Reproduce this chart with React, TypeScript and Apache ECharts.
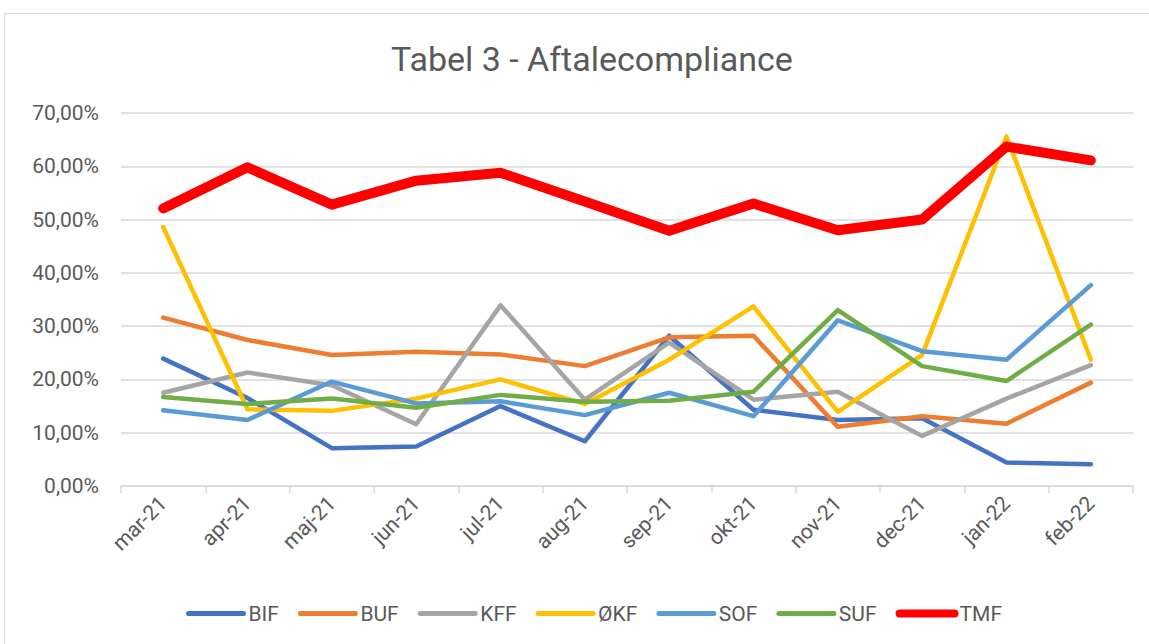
import React, { useEffect, useRef } from "react";
import * as echarts from "echarts";

const months = ["mar-21", "apr-21", "maj-21", "jun-21", "jul-21", "aug-21", "sep-21", "okt-21", "nov-21", "dec-21", "jan-22", "feb-22"];

const BIF = [23.9, 16.5, 7.1, 7.4, 15.0, 8.4, 28.2, 14.3, 12.4, 12.7, 4.4, 4.1];
const BUF = [31.6, 27.4, 24.6, 25.2, 24.7, 22.5, 27.9, 28.2, 11.1, 13.1, 11.7, 19.4];
const KFF = [17.5, 21.3, 18.9, 11.6, 33.9, 16.2, 26.9, 16.2, 17.7, 9.4, 16.4, 22.7];
const OKF = [48.6, 14.4, 14.1, 16.4, 20.0, 15.4, 23.7, 33.7, 13.9, 24.6, 65.6, 23.7];
const SOF = [14.2, 12.4, 19.6, 15.5, 15.9, 13.3, 17.5, 13.1, 31.1, 25.3, 23.7, 37.7];
const SUF = [16.7, 15.4, 16.4, 14.7, 17.1, 15.8, 16.0, 17.7, 33.0, 22.5, 19.7, 30.3];
const TMF = [52.1, 59.8, 52.8, 57.3, 58.8, 53.4, 47.9, 53.0, 48.0, 50.0, 63.7, 61.1];

const seriesNames = ["BIF", "BUF", "KFF", "ØKF", "SOF", "SUF", "TMF"];
const seriesData = [BIF, BUF, KFF, OKF, SOF, SUF, TMF];
const seriesColors = ["#4472C4", "#ED7D31", "#A5A5A5", "#FFC000", "#5B9BD5", "#70AD47", "#FF0000"];
const seriesWidths = [4.5, 4.5, 4.5, 4.5, 4.5, 4.5, 10];
const legendWidths = [5, 5, 5, 5, 5, 5, 8];

const FONT = "Roboto, 'Liberation Sans', sans-serif";

export default function App() {
  const ref = useRef<HTMLDivElement>(null);
  useEffect(() => {
    if (!ref.current) return;
    const chart = echarts.init(ref.current, undefined, { renderer: "svg" });
    chart.setOption({
      animation: false,
      backgroundColor: "#ffffff",
      textStyle: { fontFamily: FONT },
      title: {
        text: "Tabel 3 - Aftalecompliance",
        left: 386,
        top: 37,
        textStyle: { fontFamily: FONT, fontSize: 34, fontWeight: "normal", color: "#595959" },
      },
      graphic: [
        {
          type: "rect",
          shape: { x: 4.5, y: 13.5, width: 1200, height: 700 },
          style: { fill: "none", stroke: "#d9d9d9", lineWidth: 1 },
          silent: true,
        },
      ],
      legend: {
        data: seriesNames.map((name, i) => ({
          name,
          lineStyle: { width: legendWidths[i], cap: "round" },
        })),
        left: 181,
        top: 598,
        itemWidth: 55,
        itemHeight: 12,
        itemGap: 19,
        itemStyle: { opacity: 0 },
        textStyle: { fontFamily: FONT, fontSize: 21, color: "#595959" },
      },
      grid: { left: 121, right: 16, top: 113, bottom: 158, containLabel: false },
      xAxis: {
        type: "category",
        data: months,
        boundaryGap: true,
        axisLine: { lineStyle: { color: "#d9d9d9", width: 1.5 } },
        axisTick: { show: true, length: 7, lineStyle: { color: "#d9d9d9", width: 1.5 } },
        axisLabel: { rotate: 45, margin: 14, fontSize: 21, color: "#595959", fontFamily: FONT },
      },
      yAxis: {
        type: "value",
        min: 0,
        max: 70,
        interval: 10,
        axisLine: { show: false },
        axisTick: { show: false },
        splitLine: { lineStyle: { color: "#d9d9d9", width: 1.5 } },
        axisLabel: {
          margin: 22,
          fontSize: 21,
          color: "#595959",
          fontFamily: FONT,
          formatter: (v: number) => v.toFixed(2).replace(".", ",") + "%",
        },
      },
      series: seriesNames.map((name, i) => ({
        name,
        type: "line",
        data: seriesData[i],
        symbol: "none",
        color: seriesColors[i],
        lineStyle: { color: seriesColors[i], width: seriesWidths[i], cap: "round", join: "round" },
      })),
    });
    return () => chart.dispose();
  }, []);
  return <div ref={ref} style={{ position: "fixed", left: 0, top: 0, width: 1149, height: 644 }} />;
}
